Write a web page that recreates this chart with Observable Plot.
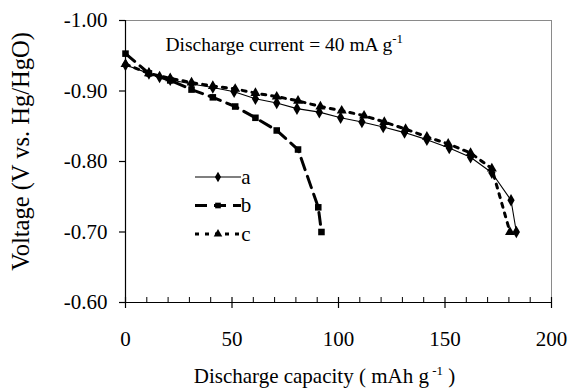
<!DOCTYPE html>
<html>
<head>
<meta charset="utf-8">
<script src="https://cdn.jsdelivr.net/npm/d3@7"></script>
<script src="https://cdn.jsdelivr.net/npm/@observablehq/plot@0.6"></script>
<style>
  html, body { margin: 0; padding: 0; background: #fff; }
  #chart { position: relative; width: 570px; height: 388px; }
  #chart svg, #chart svg text, #chart svg tspan { font-family: "Liberation Serif", "Times New Roman", Times, "DejaVu Serif", serif !important; }
</style>
</head>
<body>
<div id="chart"></div>
<script>
// ---- data ----
const seriesNames = ["a", "b", "c"];

const capA  = [0, 11, 16, 21, 31, 41, 51, 61, 71, 80.5, 91, 101, 111, 121, 131, 141.5, 152, 162, 172, 181, 183.5];
const voltA = [-0.937, -0.925, -0.920, -0.916, -0.910, -0.905, -0.899, -0.889, -0.883, -0.875, -0.870, -0.862, -0.856, -0.849, -0.841, -0.831, -0.819, -0.806, -0.784, -0.745, -0.700];

const capB  = [0, 11, 21, 31, 41, 51.5, 61, 71, 81, 90.5, 92];
const voltB = [-0.953, -0.925, -0.915, -0.902, -0.891, -0.878, -0.862, -0.844, -0.817, -0.735, -0.700];

const capC  = [0, 11, 21, 31, 41, 51.5, 61, 71, 81, 91.5, 101.5, 112, 121.5, 131.5, 141.5, 151.5, 162, 172, 180.5];
const voltC = [-0.938, -0.925, -0.918, -0.912, -0.907, -0.903, -0.897, -0.892, -0.886, -0.878, -0.872, -0.865, -0.856, -0.846, -0.835, -0.825, -0.812, -0.790, -0.700];

const xTicks = [0, 50, 100, 150, 200];
const xMinorTicks = [10, 20, 30, 40, 60, 70, 80, 90, 110, 120, 130, 140, 160, 170, 180, 190];
const yTicks = [-1.0, -0.9, -0.8, -0.7, -0.6];
const yTickLabels = ["-1.00", "-0.90", "-0.80", "-0.70", "-0.60"];

const annotationText = "Discharge current = 40 mA g";
const annotationSup = "-1";
const xTitle = "Discharge capacity ( mAh g";
const xTitleSup = " -1";
const xTitleEnd = " )";
const yTitle = "Voltage (V vs. Hg/HgO)";

// ---- styles ----
const FONT = "Liberation Serif, Times New Roman, serif";
const styles = {
  a: { stroke: "black", strokeWidth: 1.1, dash: null, symbol: "diamond", r: 3.8 },
  b: { stroke: "black", strokeWidth: 3, dash: "12,7", symbol: "square", r: 3.7 },
  c: { stroke: "black", strokeWidth: 3, dash: "4,6", symbol: "triangle", r: 3.7 }
};

const caps = { a: capA, b: capB, c: capC };
const volts = { a: voltA, b: voltB, c: voltC };
const rows = seriesNames.flatMap(s => caps[s].map((x, i) => ({ series: s, x, y: volts[s][i] })));

const lineMarks = seriesNames.flatMap(s => {
  const st = styles[s];
  const d = rows.filter(r => r.series === s);
  return [
    Plot.line(d, { x: "x", y: "y", stroke: st.stroke, strokeWidth: st.strokeWidth, strokeDasharray: st.dash, curve: "linear" }),
    Plot.dot(d, { x: "x", y: "y", symbol: () => st.symbol, r: st.r, fill: "black", stroke: "none" })
  ];
});

const svg = Plot.plot({
  width: 570,
  height: 388,
  marginLeft: 125,
  marginRight: 19,
  marginTop: 20,
  marginBottom: 86,
  x: { domain: [0, 200], axis: null },
  y: { domain: [-0.6, -1.0], axis: null },
  symbol: { domain: ["diamond", "square", "triangle"], range: ["diamond", "square", "triangle"] },
  style: { fontFamily: FONT, fontSize: "21px", color: "black", background: "white", overflow: "visible" },
  marks: [
    Plot.frame({ stroke: "#8a8a8a", strokeWidth: 1 }),
    Plot.ruleX([0], { stroke: "black", strokeWidth: 1.2 }),
    Plot.ruleY([-0.6], { stroke: "black", strokeWidth: 1.2 }),
    // minor x ticks (inside)
    Plot.ruleX(xMinorTicks, { x: d => d, y1: -0.6, y2: -0.6, insetTop: -5, stroke: "black", strokeWidth: 1 }),
    // major x ticks (crossing)
    Plot.ruleX(xTicks, { x: d => d, y1: -0.6, y2: -0.6, insetTop: -5, insetBottom: -6, stroke: "black", strokeWidth: 1.2 }),
    // y ticks (outside)
    Plot.ruleY(yTicks, { y: d => d, x1: 0, x2: 0, insetLeft: -6, stroke: "black", strokeWidth: 1.2 }),
    // tick labels
    Plot.text(xTicks, { x: d => d, text: d => String(d), frameAnchor: "bottom", lineAnchor: "middle", dy: 37, fontSize: 21, fill: "black" }),
    Plot.text(yTicks, { y: d => d, text: (d, i) => yTickLabels[i], frameAnchor: "left", textAnchor: "end", lineAnchor: "middle", dx: -18, fontSize: 21, fill: "black" }),
    // axis titles
    Plot.text([xTitle], { text: d => d, frameAnchor: "bottom", lineAnchor: "middle", dx: -14, dy: 74, fontSize: 21, fill: "black" }),
    Plot.text([yTitle], { text: d => d, frameAnchor: "left", textAnchor: "middle", lineAnchor: "middle", rotate: -90, dx: -104, dy: -10, fontSize: 24.5, fill: "black" }),
    // annotation
    Plot.text([annotationText], { text: d => d, frameAnchor: "top-left", textAnchor: "start", lineAnchor: "middle", dx: 40, dy: 24, fontSize: 19.5, fill: "black" }),
    ...lineMarks
  ]
});

document.getElementById("chart").appendChild(svg);

// superscripts
function addSup(base, sup, after) {
  d3.select(svg).selectAll("text").filter(function () { return this.textContent === base; }).each(function () {
    const t = d3.select(this);
    t.append("tspan").attr("dy", -8).attr("font-size", 13).text(sup);
    if (after) t.append("tspan").attr("dy", 8).text(after);
  });
}
addSup(annotationText, annotationSup, null);
addSup(xTitle, xTitleSup, xTitleEnd);

// legend (inside the plot area)
const legendX = 195, legendY0 = 177, legendDY = 28.5, legendLen = 46;
const lg = d3.select(svg).append("g").attr("class", "legend");
const symMap = { diamond: d3.symbolDiamond, square: d3.symbolSquare, triangle: d3.symbolTriangle };
seriesNames.forEach((s, i) => {
  const st = styles[s];
  const y = legendY0 + i * legendDY;
  lg.append("line")
    .attr("x1", legendX).attr("x2", legendX + legendLen)
    .attr("y1", y).attr("y2", y)
    .attr("stroke", st.stroke).attr("stroke-width", st.strokeWidth)
    .attr("stroke-dasharray", st.dash);
  lg.append("path")
    .attr("transform", `translate(${legendX + legendLen / 2},${y})`)
    .attr("d", d3.symbol(symMap[st.symbol], Math.PI * 3.2 * 3.2)())
    .attr("fill", "black");
  lg.append("text")
    .attr("x", legendX + legendLen + 5).attr("y", y).attr("dy", "0.32em")
    .attr("font-size", 21).attr("fill", "black")
    .text(s);
});
</script>
</body>
</html>
